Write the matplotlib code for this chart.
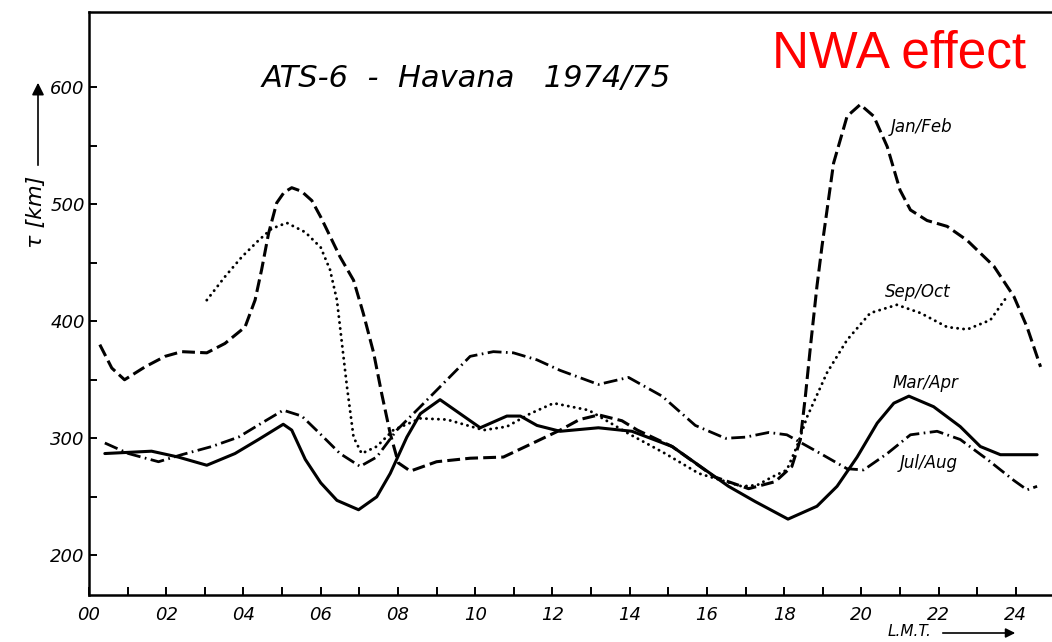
import matplotlib
matplotlib.use("Agg")
import matplotlib.pyplot as plt
from matplotlib.ticker import MultipleLocator, FixedLocator

W, H = 1052, 642

# ---- data (hour LMT, slab thickness tau in km) ----
janfeb_h = [0.28, 0.59, 0.92, 1.45, 1.97, 2.4, 3.05, 3.52, 4.04, 4.3, 4.47, 4.65, 4.86, 5.05, 5.25, 5.5, 5.77, 6.0,
            6.5, 6.85, 7.1, 7.37, 7.58, 7.8, 8.01, 8.32, 9.0, 9.87, 10.73, 11.5, 12.2, 12.7, 13.2, 13.8, 14.2,
            15.1, 16.2, 17.08, 17.77, 18.2, 18.42, 18.55, 18.68, 18.85, 18.98, 19.28, 19.63, 19.97, 20.32,
            20.67, 21.0, 21.27, 21.7, 22.22, 22.74, 23.43, 23.95, 24.29, 24.64]
janfeb_v = [380, 360, 350, 361, 370, 374, 373, 381, 395, 418, 444, 475, 501, 510, 514, 511, 503, 489,
            455, 435, 407, 373, 338, 304, 279, 272, 280, 283, 284, 296, 307, 316, 320, 315, 307,
            293, 267, 257, 263, 276, 299, 336, 378, 430, 464, 535, 575, 585, 575,
            549, 512, 495, 486, 481, 469, 447, 421, 395, 361]

sepoct_h = [3.05, 3.52, 3.96, 4.39, 4.73, 5.12, 5.6, 6.0, 6.24, 6.42, 6.55, 6.68, 6.85, 7.06, 7.45, 7.88,
            8.58, 9.27, 10.22, 10.82, 11.42, 12.03, 12.94, 13.97, 14.92, 15.79, 16.9, 17.3, 17.69, 18.07,
            18.33, 18.59, 19.11, 19.63, 20.23, 20.92, 21.53, 22.22, 22.74, 23.34, 23.77]
sepoct_v = [418, 438, 455, 469, 479, 484, 476, 463, 444, 418, 381, 344, 301, 287, 293, 307,
            317, 316, 307, 310, 321, 330, 324, 304, 287, 270, 259, 260, 267, 273,
            293, 318, 356, 384, 407, 414, 407, 395, 393, 401, 421]

marapr_h = [0.41, 1.62, 2.31, 3.05, 3.78, 4.39, 5.03, 5.25, 5.6, 6.0, 6.42, 6.98, 7.45, 7.8, 8.23, 8.58,
            9.09, 9.61, 10.13, 10.82, 11.17, 11.6, 12.2, 13.19, 14.06, 15.1, 16.56, 17.25, 18.1, 18.85,
            19.37, 19.89, 20.41, 20.84, 21.23, 21.87, 22.56, 23.08, 23.6, 24.55]
marapr_v = [287, 289, 284, 277, 287, 299, 312, 307, 282, 262, 247, 239, 250, 270, 301, 321,
            333, 321, 309, 319, 319, 311, 306, 309, 306, 293, 259, 246, 231, 242,
            259, 284, 313, 330, 336, 327, 310, 293, 286, 286]

julaug_h = [0.41, 1.02, 1.8, 2.4, 3.18, 3.87, 4.47, 5.03, 5.51, 5.98, 6.5, 7.02, 7.45, 7.97, 8.58, 9.27,
            9.87, 10.47, 10.99, 11.6, 12.2, 13.19, 13.97, 14.84, 15.7, 16.48, 17.0, 17.6, 18.07, 18.94,
            19.63, 20.06, 20.67, 21.27, 21.96, 22.56, 23.26, 23.95, 24.29, 24.55]
julaug_v = [296, 287, 280, 286, 293, 301, 313, 324, 319, 304, 287, 276, 284, 307, 327, 350,
            370, 374, 373, 367, 358, 346, 352, 336, 311, 300, 301, 305, 303, 287,
            274, 273, 287, 303, 306, 299, 282, 264, 256, 259]

series_labels = ["Jan/Feb", "Sep/Oct", "Mar/Apr", "Jul/Aug"]
xtick_labels = ["00", "02", "04", "06", "08", "10", "12", "14", "16", "18", "20", "22", "24"]
ytick_values = [200, 300, 400, 500, 600]
ytick_minor = [200, 250, 300, 350, 400, 450, 500, 550, 600]

fig = plt.figure(figsize=(W / 100, H / 100), dpi=100)
ax = fig.add_axes([89 / W, 1 - 595 / H, (W - 89) / W + 0.01, (595 - 11.7) / H])
ax.set_xlim(0, (W - 89) / 38.6 + 0.26)
ax.set_ylim(166.2, 664.3)

lw = 2.2
ax.plot(janfeb_h, janfeb_v, color="black", lw=lw, dashes=(4.2, 1.7), solid_joinstyle="round")
ax.plot(sepoct_h, sepoct_v, color="black", lw=2.1, dashes=(0.05, 2.0), dash_capstyle="round")
ax.plot(marapr_h, marapr_v, color="black", lw=lw, solid_joinstyle="round", solid_capstyle="round")
ax.plot(julaug_h, julaug_v, color="black", lw=2.0, dashes=(5, 1.6, 0.6, 1.6), solid_joinstyle="round")

for s in ["left", "bottom", "top"]:
    ax.spines[s].set_linewidth(1.8)
ax.spines["right"].set_visible(False)

tick_font = dict(family="DejaVu Sans", style="italic", size=13)
ax.xaxis.set_major_locator(FixedLocator(range(0, 25, 2)))
ax.xaxis.set_minor_locator(MultipleLocator(1))
ax.set_xticklabels(xtick_labels, **tick_font)
ax.yaxis.set_major_locator(FixedLocator(ytick_values))
ax.yaxis.set_minor_locator(FixedLocator(ytick_minor))
ax.set_yticklabels([str(v) for v in ytick_values], **tick_font)
ax.tick_params(which="both", direction="in", length=6, width=1.4, top=False, right=False)
ax.tick_params(axis="x", pad=8)
ax.tick_params(axis="y", pad=3)

lab_font = dict(family="DejaVu Sans", style="italic", size=12)
label_pos = [(922, 127), (918, 292), (925, 383), (929, 463)]
for name, (px, py) in zip(series_labels, label_pos):
    fig.text(px / W, 1 - py / H, name, ha="center", va="center", **lab_font)

fig.text(466 / W, 1 - 78 / H, "ATS-6  -  Havana   1974/75", ha="center", va="center",
         family="DejaVu Sans", style="italic", size=22)

fig.text(899 / W, 1 - 54 / H, "NWA effect", ha="center", va="center",
         family="Liberation Sans", size=37, color="#ff0000")

# y label with arrow
fig.text(36 / W, 1 - 212 / H, "τ [km]", rotation=90, ha="center", va="center",
         family="DejaVu Sans", style="italic", size=16)
fig.add_artist(matplotlib.patches.FancyArrowPatch((38 / W, 1 - 168 / H), (38 / W, 1 - 80 / H),
               transform=fig.transFigure, arrowstyle="-|>", mutation_scale=18, lw=1.2, color="black"))

# x label with arrow
fig.text(910 / W, 1 - 632 / H, "L.M.T.", ha="center", va="center",
         family="DejaVu Sans", style="italic", size=11)
fig.add_artist(matplotlib.patches.FancyArrowPatch((940 / W, 1 - 633 / H), (1018 / W, 1 - 633 / H),
               transform=fig.transFigure, arrowstyle="-|>", mutation_scale=14, lw=1.2, color="black"))

fig.savefig("out.png", dpi=100)
